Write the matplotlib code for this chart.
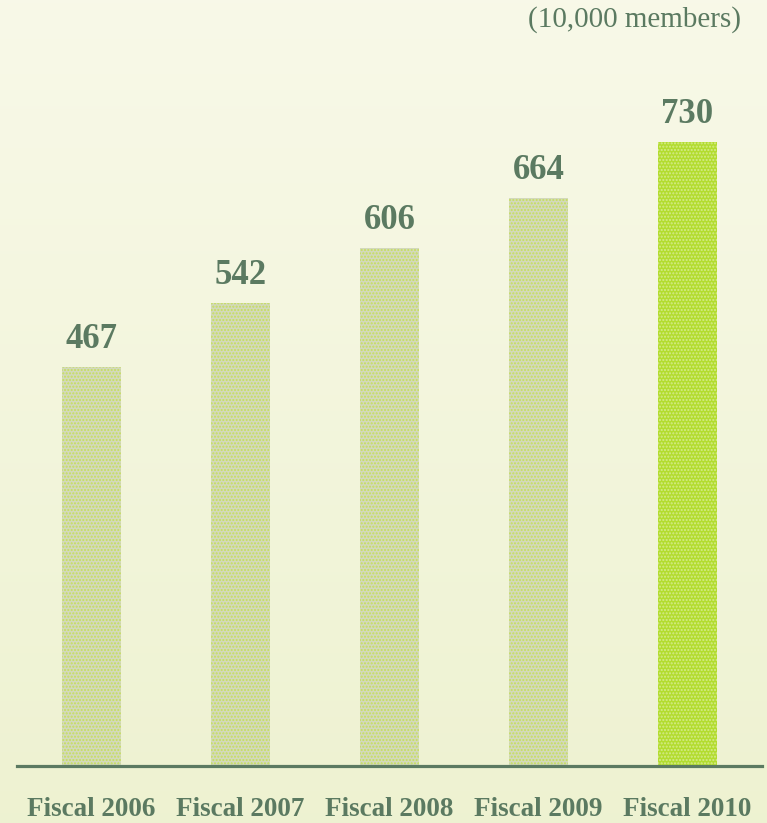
import matplotlib.pyplot as plt
import numpy as np

years = ["Fiscal 2006", "Fiscal 2007", "Fiscal 2008", "Fiscal 2009", "Fiscal 2010"]
members = [467, 542, 606, 664, 730]
unit_label = "(10,000 members)"

text_color = "#5b7a61"
plt.rcParams['font.family'] = ['Liberation Serif', 'DejaVu Serif']

fig = plt.figure(figsize=(7.67, 8.23), dpi=100)

# soft cream gradient behind everything
bg = fig.add_axes([0, 0, 1, 1], zorder=0)
grad = np.linspace(0, 1, 256).reshape(-1, 1)
top = np.array([0.973, 0.976, 0.910])
bottom = np.array([0.933, 0.949, 0.820])
img = top + (bottom - top) * grad[:, :, None]
bg.imshow(img, aspect='auto', extent=[0, 1, 0, 1])
bg.axis('off')

ax = fig.add_axes([17/767, 57/823, 745/767, 706/823], zorder=1)
ax.patch.set_alpha(0)

x = np.arange(len(years))
faces = ["#d3d9bb"] * 4 + ["#b3dc2f"]
dots = ["#c6df5a"] * 4 + ["#d4eb8a"]
for xi, v, fc, dc in zip(x, members, faces, dots):
    ax.bar(xi, v, width=0.40, color=fc, edgecolor=dc, linewidth=0, hatch='.....')
    ax.annotate(str(v), (xi, v), xytext=(0, 8), textcoords='offset points',
                ha='center', va='bottom', fontsize=25, fontweight='bold', color=text_color)

ax.set_xlim(-0.5, 4.5)
ax.set_ylim(0, 826)
ax.set_yticks([])
ax.set_xticks(x)
ax.set_xticklabels(years, fontsize=19.5, fontweight='bold', color=text_color)
ax.tick_params(axis='x', length=0, pad=22)
for s in ['top', 'left', 'right']:
    ax.spines[s].set_visible(False)
ax.spines['bottom'].set_linewidth(2.3)
ax.spines['bottom'].set_color(text_color)

fig.text(741/767, 1 - 20/823, unit_label, ha='right', va='center', fontsize=21, color=text_color)

fig.savefig('out.png', dpi=100)
